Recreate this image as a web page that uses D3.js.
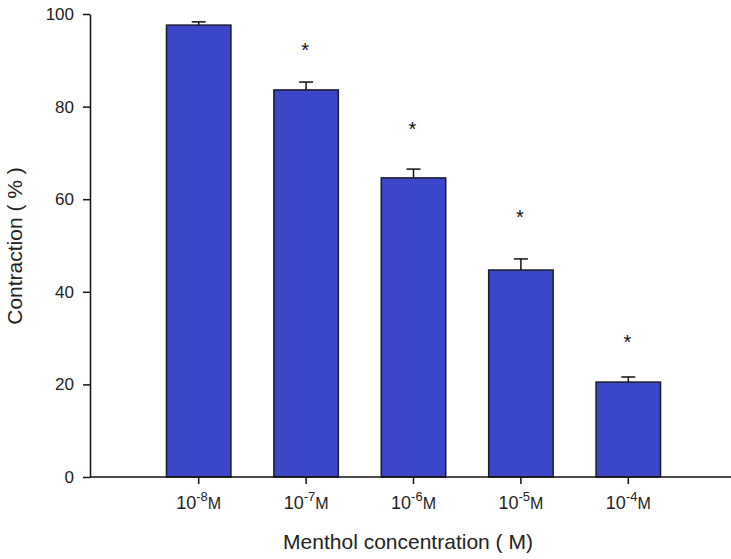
<!DOCTYPE html>
<html>
<head>
<meta charset="utf-8">
<script src="https://cdn.jsdelivr.net/npm/d3@7"></script>
<style>
  body { margin: 0; background: #fff; }
  svg { display: block; font-family: "Liberation Sans", Arial, sans-serif; }
</style>
</head>
<body>
<svg id="chart" width="731" height="559"></svg>
<script>
// data
const exponents = ["-8", "-7", "-6", "-5", "-4"];
const contraction = [97.6, 83.6, 64.6, 44.7, 20.5];
const sem = [0.7, 1.7, 1.9, 2.4, 1.1];
const starLevel = [null, 93, 76, 57, 30];
const yTicks = [0, 20, 40, 60, 80, 100];

const rows = exponents.map((e, i) => ({ e, v: contraction[i], err: sem[i], star: starLevel[i] }));

const W = 731;
const axisX = 90, baseY = 477, topY = 14;

const svg = d3.select('#chart');

const x = d3.scaleBand()
  .domain(exponents)
  .range([145, 682])
  .paddingInner(0.4)
  .paddingOuter(0.2);

const y = d3.scaleLinear().domain([0, 100]).range([baseY, topY]);

// bars
svg.append('g').selectAll('rect')
  .data(rows)
  .join('rect')
  .attr('x', d => x(d.e))
  .attr('y', d => y(d.v))
  .attr('width', x.bandwidth())
  .attr('height', d => y(0) - y(d.v))
  .attr('fill', '#3c46c8')
  .attr('stroke', '#1a1a2e')
  .attr('stroke-width', 1.5);

// error bars (upper only)
const eb = svg.append('g').attr('stroke', '#111').attr('stroke-width', 1.5);
rows.forEach(d => {
  const cx = x(d.e) + x.bandwidth() / 2;
  eb.append('line').attr('x1', cx).attr('x2', cx).attr('y1', y(d.v)).attr('y2', y(d.v + d.err));
  eb.append('line').attr('x1', cx - 7).attr('x2', cx + 7).attr('y1', y(d.v + d.err)).attr('y2', y(d.v + d.err));
});

// significance stars
svg.append('g').selectAll('text')
  .data(rows.filter(d => d.star != null))
  .join('text')
  .attr('x', d => x(d.e) + x.bandwidth() / 2 - 1)
  .attr('y', d => y(d.star) + 11)
  .attr('text-anchor', 'middle')
  .attr('font-size', 20)
  .attr('fill', '#111')
  .text('*');

// y axis
const yAxis = svg.append('g')
  .attr('transform', `translate(${axisX},0)`)
  .call(d3.axisLeft(y).tickValues(yTicks).tickSize(7).tickPadding(9).tickSizeOuter(0));
yAxis.select('.domain').attr('stroke', '#111').attr('stroke-width', 1.5);
yAxis.selectAll('.tick line').attr('stroke', '#111').attr('stroke-width', 1.5);
yAxis.selectAll('.tick text').attr('font-size', 17).attr('fill', '#222')
  .attr('font-family', '"Liberation Sans", Arial, sans-serif');

// x axis line across full width
svg.append('line')
  .attr('x1', axisX).attr('x2', W)
  .attr('y1', baseY).attr('y2', baseY)
  .attr('stroke', '#111').attr('stroke-width', 1.5);

const xAxis = svg.append('g')
  .attr('transform', `translate(0,${baseY})`)
  .call(d3.axisBottom(x).tickSize(7).tickSizeOuter(0).tickFormat(''));
xAxis.select('.domain').remove();
xAxis.selectAll('.tick line').attr('stroke', '#111').attr('stroke-width', 1.5);
xAxis.selectAll('.tick').append('text')
  .attr('y', 32)
  .attr('text-anchor', 'middle')
  .attr('fill', '#222')
  .attr('font-size', 18)
  .attr('font-family', '"Liberation Sans", Arial, sans-serif')
  .each(function (d) {
    const t = d3.select(this);
    t.append('tspan').text('10');
    t.append('tspan').attr('font-size', 13).attr('dy', -8).text(d);
    t.append('tspan').attr('font-size', 16).attr('dy', 8).text('M');
  });

// axis titles
svg.append('text')
  .attr('x', 408).attr('y', 549)
  .attr('text-anchor', 'middle')
  .attr('font-size', 21)
  .attr('fill', '#222')
  .text('Menthol concentration ( M)');

svg.append('text')
  .attr('transform', 'translate(22,246) rotate(-90)')
  .attr('text-anchor', 'middle')
  .attr('font-size', 21)
  .attr('fill', '#222')
  .text('Contraction ( % )');
</script>
</body>
</html>
